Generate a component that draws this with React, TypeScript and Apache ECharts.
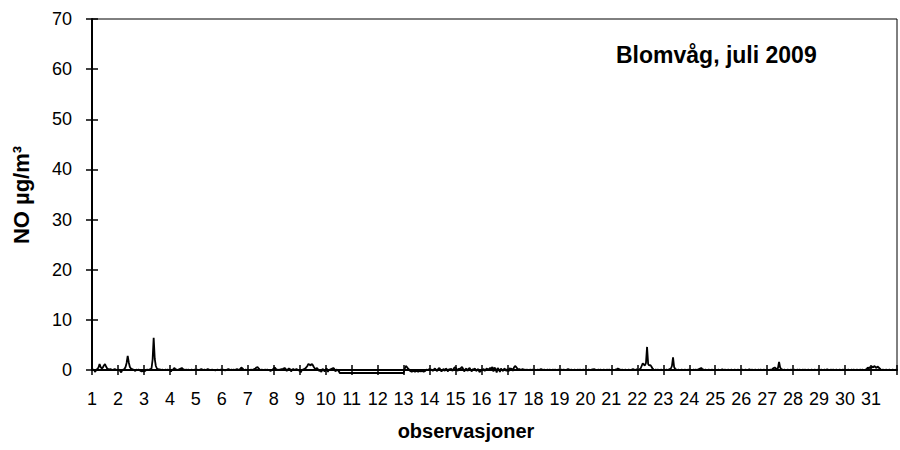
import React, { useEffect, useRef } from "react";
import * as echarts from "echarts";

// Hourly NO values (µg/m³), Blomvåg, July 2009 — one array per day (24 hours)
const d01 = [0.2, 0.1, 0.0, -0.4, 0.1, 0.2, 0.5, 1.2, 0.6, 0.3, 0.5, 0.9, 1.2, 0.7, 0.3, 0.2, 0.1, 0.2, 0.1, 0.0, 0.1, 0.2, 0.1, 0.0];
const d02 = [0.0, 0.1, -0.2, -0.5, 0.0, 0.1, 0.2, 0.6, 1.4, 2.8, 1.5, 0.6, 0.3, 0.2, 0.1, 0.0, -0.2, 0.1, 0.0, 0.1, 0.0, -0.2, -0.3, -0.2];
const d03 = [-0.3, -0.2, 0.0, 0.1, 0.0, 0.1, 0.2, 0.3, 2.0, 6.4, 2.2, 0.8, 0.3, 0.2, 0.1, 0.1, 0.0, 0.1, 0.0, 0.0, 0.1, 0.0, 0.1, 0.0];
const d04 = [0.0, -0.3, 0.1, 0.0, 0.4, 0.2, 0.1, 0.0, 0.1, 0.2, 0.3, 0.4, 0.2, 0.1, 0.0, 0.1, 0.0, 0.1, 0.0, 0.0, 0.1, 0.0, 0.0, 0.1];
const d05 = [0.0, 0.1, 0.0, 0.0, 0.1, 0.2, 0.1, 0.0, 0.1, 0.0, 0.1, 0.2, 0.1, 0.0, 0.0, 0.1, 0.0, 0.0, -0.1, 0.0, 0.1, 0.0, 0.0, 0.1];
const d06 = [0.0, 0.1, 0.0, -0.1, 0.0, 0.1, 0.2, 0.1, 0.0, 0.1, 0.0, 0.1, 0.0, 0.1, 0.2, 0.1, 0.0, 0.2, 0.5, 0.3, 0.1, 0.0, 0.1, 0.0];
const d07 = [0.1, 0.0, 0.0, 0.1, 0.0, 0.1, 0.2, 0.3, 0.5, 0.6, 0.3, 0.1, 0.0, 0.1, 0.0, 0.0, 0.1, 0.0, 0.1, 0.0, 0.0, -0.2, 0.0, 0.1];
const d08 = [0.3, 0.5, 0.2, 0.1, 0.0, 0.1, 0.0, 0.2, 0.1, 0.3, 0.4, 0.2, -0.2, 0.1, 0.3, 0.2, -0.3, 0.1, 0.2, 0.0, 0.1, 0.2, 0.0, -0.1];
const d09 = [0.0, -0.5, 0.0, 0.1, 0.2, 0.3, 0.5, 0.8, 1.2, 1.1, 0.9, 1.2, 1.0, 0.6, 0.3, 0.2, 0.4, 0.1, -0.2, 0.0, -0.4, 0.2, 0.1, -0.3];
const d10 = [0.1, 0.3, -0.4, 0.1, 0.0, 0.2, 0.3, 0.4, 0.2, -0.3, 0.1, 0.0, -0.2, -0.6, -0.6, -0.6, -0.6, -0.6, -0.6, -0.6, -0.6, -0.6, -0.6, -0.6];
const d11 = [-0.6, -0.6, -0.6, -0.6, -0.6, -0.6, -0.6, -0.6, -0.6, -0.6, -0.6, -0.6, -0.6, -0.6, -0.6, -0.6, -0.6, -0.6, -0.6, -0.6, -0.6, -0.6, -0.6, -0.6];
const d12 = [-0.6, -0.6, -0.6, -0.6, -0.6, -0.6, -0.6, -0.6, -0.6, -0.6, -0.6, -0.6, -0.6, -0.6, -0.6, -0.6, -0.6, -0.6, -0.6, -0.6, -0.6, -0.6, -0.6, -0.6];
const d13 = [-0.6, 0.2, 0.8, 0.6, 0.3, 0.1, -0.2, -0.3, -0.3, -0.2, -0.3, -0.3, -0.2, -0.3, -0.3, -0.2, -0.3, -0.2, -0.3, -0.3, -0.2, 0.1, 0.0, 0.1];
const d14 = [0.2, 0.0, 0.1, -0.2, 0.1, 0.3, 0.0, -0.2, 0.2, 0.4, 0.1, -0.3, 0.0, 0.2, -0.2, 0.3, 0.1, -0.3, 0.2, 0.0, 0.3, -0.2, 0.1, 0.5];
const d15 = [0.5, 0.2, -0.2, 0.3, 0.1, 0.4, 0.6, 0.2, -0.3, 0.1, 0.3, -0.2, 0.2, 0.4, 0.0, -0.3, 0.2, 0.1, 0.3, -0.2, 0.0, 0.2, -0.4, -0.3];
const d16 = [0.1, 0.0, 0.2, -0.2, 0.1, 0.3, 0.0, 0.2, 0.4, 0.3, 0.6, -0.3, 0.5, 0.2, -0.5, 0.4, 0.1, -0.4, 0.3, 0.0, -0.2, 0.3, 0.1, -0.2];
const d17 = [0.2, -0.3, 0.4, 0.1, 0.3, -0.2, 0.5, 0.8, 0.6, 0.3, 0.1, 0.2, 0.0, 0.1, 0.2, 0.0, 0.1, 0.0, 0.1, 0.0, 0.0, 0.1, 0.0, 0.1];
const d18 = [0.0, 0.1, 0.0, 0.0, 0.1, 0.0, 0.1, 0.2, 0.1, 0.0, 0.1, 0.0, 0.0, 0.1, 0.0, 0.1, 0.0, 0.0, 0.1, 0.0, 0.1, 0.0, 0.0, 0.1];
const d19 = [0.0, 0.0, 0.1, 0.0, 0.1, 0.0, 0.0, 0.1, 0.2, 0.1, 0.0, 0.1, 0.0, 0.0, 0.1, 0.0, 0.0, 0.1, 0.0, 0.1, 0.0, 0.0, 0.1, 0.0];
const d20 = [0.1, 0.0, 0.0, 0.1, 0.0, 0.0, 0.1, 0.1, 0.2, 0.1, 0.0, 0.0, 0.1, 0.0, 0.1, 0.0, 0.0, 0.1, 0.0, 0.0, 0.1, 0.0, 0.1, 0.0];
const d21 = [0.0, 0.1, 0.0, 0.0, 0.1, 0.1, 0.3, 0.2, 0.1, 0.0, 0.1, 0.0, 0.0, 0.1, 0.0, 0.0, 0.1, 0.0, 0.0, 0.1, 0.2, 0.1, 0.0, 0.1];
const d22 = [0.1, 0.0, 0.1, 0.3, 0.8, 1.3, 1.1, 0.9, 1.4, 4.6, 1.2, 0.9, 1.0, 0.7, 0.3, 0.1, 0.0, 0.1, 0.0, 0.1, 0.0, 0.0, 0.1, 0.0];
const d23 = [0.0, 0.1, 0.0, 0.1, 0.0, 0.1, 0.2, 0.3, 0.8, 2.5, 0.6, 0.2, 0.1, 0.0, 0.1, 0.0, 0.0, 0.1, 0.0, 0.0, 0.1, 0.0, 0.0, 0.1];
const d24 = [0.0, 0.1, 0.0, 0.0, 0.1, 0.0, 0.1, 0.0, 0.1, 0.2, 0.3, 0.4, 0.2, 0.1, 0.0, 0.1, 0.0, 0.0, 0.1, 0.0, 0.0, 0.1, 0.0, 0.0];
const d25 = [0.1, 0.0, 0.0, 0.1, 0.0, 0.0, 0.1, 0.1, 0.0, 0.1, 0.0, 0.0, 0.1, 0.0, 0.0, 0.1, 0.0, 0.0, 0.1, 0.0, 0.0, 0.1, 0.0, 0.0];
const d26 = [0.0, 0.1, 0.0, 0.0, 0.1, 0.0, 0.0, 0.1, 0.1, 0.0, 0.1, 0.0, 0.0, 0.1, 0.0, 0.0, 0.1, 0.0, 0.1, 0.0, 0.0, 0.1, 0.0, 0.0];
const d27 = [0.1, 0.0, 0.0, 0.1, 0.0, 0.2, 0.4, 0.5, 0.3, 0.2, 0.4, 1.6, 0.5, 0.2, 0.1, 0.0, 0.1, 0.0, 0.0, 0.1, 0.0, 0.0, 0.1, 0.0];
const d28 = [0.0, 0.1, 0.0, 0.0, 0.1, 0.0, 0.1, 0.0, 0.0, 0.1, 0.0, 0.1, 0.0, 0.0, 0.1, 0.0, 0.0, 0.1, 0.0, 0.0, 0.1, 0.0, 0.0, 0.1];
const d29 = [0.0, 0.0, 0.1, 0.0, 0.0, 0.1, 0.0, 0.1, 0.1, 0.0, 0.0, 0.1, 0.0, 0.1, 0.0, 0.0, 0.1, 0.0, 0.0, 0.1, 0.0, 0.0, 0.1, 0.0];
const d30 = [0.1, 0.0, 0.0, 0.1, 0.0, 0.0, 0.1, 0.0, 0.1, 0.0, 0.0, 0.1, 0.0, 0.0, 0.1, 0.0, 0.1, 0.0, 0.0, 0.1, 0.2, 0.5, 0.3, 0.6];
const d31 = [0.4, 0.7, 0.5, 0.8, 0.6, 0.4, 0.7, 0.5, 0.3, 0.1, 0.0, 0.1, 0.0, 0.0, 0.1, 0.0, 0.0, 0.1, 0.0, 0.0, 0.1, 0.0, 0.0, 0.1];

const days = [d01, d02, d03, d04, d05, d06, d07, d08, d09, d10, d11, d12, d13, d14, d15, d16, d17, d18, d19, d20, d21, d22, d23, d24, d25, d26, d27, d28, d29, d30, d31];

const yTicks = [0, 10, 20, 30, 40, 50, 60, 70];
const chartTitle = "Blomvåg, juli 2009";
const yTitle = "NO µg/m³";
const xTitle = "observasjoner";

const FONT = "'Liberation Sans', Arial, Helvetica, sans-serif";

export default function App() {
  const ref = useRef<HTMLDivElement>(null);

  useEffect(() => {
    if (!ref.current) return;
    const chart = echarts.init(ref.current, undefined, { renderer: "svg" });

    const data: [number, number][] = [];
    days.forEach((vals, di) => {
      vals.forEach((v, h) => {
        data.push([1 + di + h / 24, v]);
      });
    });

    const xBase = {
      type: "value" as const,
      min: 1,
      max: 32,
      interval: 1,
      splitLine: { show: false },
    };
    const yBase = {
      type: "value" as const,
      min: yTicks[0],
      max: yTicks[yTicks.length - 1],
      interval: 10,
      splitLine: { show: false },
    };

    chart.setOption({
      animation: false,
      backgroundColor: "#fff",
      grid: {
        left: 92,
        right: -11.3,
        top: 19,
        bottom: 80,
        show: true,
        borderColor: "#000",
        borderWidth: 1,
        backgroundColor: "transparent",
      },
      xAxis: [
        {
          ...xBase,
          position: "bottom",
          axisLine: { show: true, onZero: false, lineStyle: { color: "#000", width: 2 } },
          axisTick: { show: true, inside: false, length: 5, lineStyle: { color: "#000", width: 1.5 } },
          axisLabel: {
            show: true,
            margin: 20,
            color: "#000",
            fontSize: 18,
            fontFamily: FONT,
            formatter: (v: number) => (v >= 1 && v <= 31 && Number.isInteger(v) ? String(v) : ""),
          },
        },
        {
          ...xBase,
          position: "bottom",
          axisLine: { show: false },
          axisTick: { show: true, inside: true, length: 5, lineStyle: { color: "#000", width: 1.5 } },
          axisLabel: { show: false },
        },
      ],
      yAxis: [
        {
          ...yBase,
          position: "left",
          axisLine: { show: true, onZero: false, lineStyle: { color: "#000", width: 2 } },
          axisTick: { show: true, inside: false, length: 6, lineStyle: { color: "#000", width: 1.5 } },
          axisLabel: { show: true, margin: 20, color: "#000", fontSize: 18, fontFamily: FONT },
        },
        {
          ...yBase,
          position: "left",
          axisLine: { show: false },
          axisTick: { show: true, inside: true, length: 6, lineStyle: { color: "#000", width: 1.5 } },
          axisLabel: { show: false },
        },
      ],
      series: [
        {
          type: "line",
          xAxisIndex: 0,
          yAxisIndex: 0,
          data,
          showSymbol: false,
          symbol: "none",
          clip: false,
          lineStyle: { color: "#000", width: 1.8 },
          z: 5,
        },
      ],
      graphic: [
        {
          type: "text",
          x: 616,
          y: 55,
          style: {
            text: chartTitle,
            fill: "#000",
            font: `bold 23px ${FONT}`,
            textAlign: "left",
            textVerticalAlign: "middle",
          },
        },
        {
          type: "text",
          x: 21,
          y: 195,
          rotation: Math.PI / 2,
          style: {
            text: yTitle,
            fill: "#000",
            font: `bold 22px ${FONT}`,
            textAlign: "center",
            textVerticalAlign: "middle",
          },
        },
        {
          type: "text",
          x: 466,
          y: 431,
          style: {
            text: xTitle,
            fill: "#000",
            font: `bold 20px ${FONT}`,
            textAlign: "center",
            textVerticalAlign: "middle",
          },
        },
      ],
    });

    return () => chart.dispose();
  }, []);

  return (
    <div
      ref={ref}
      style={{ position: "absolute", left: 0, top: 0, width: 900, height: 450, background: "#fff" }}
    />
  );
}
